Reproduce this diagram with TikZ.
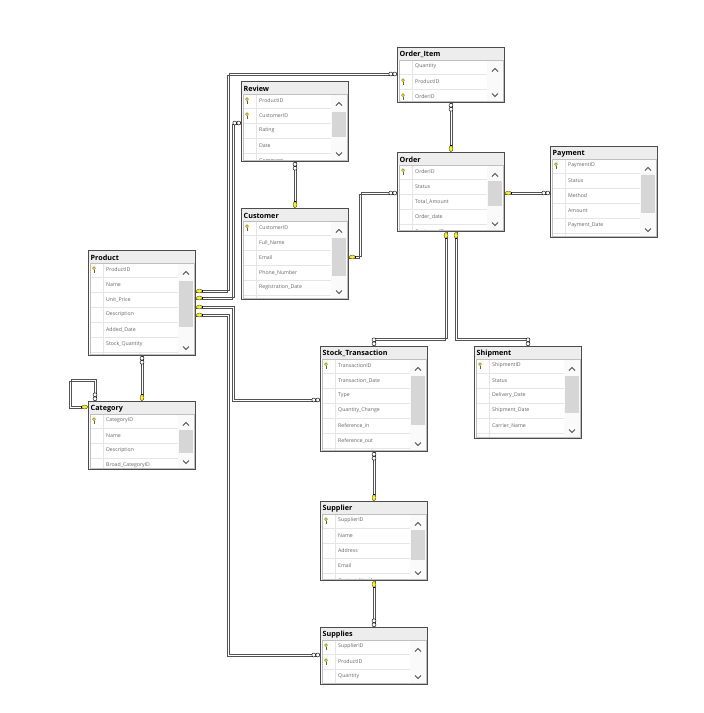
\documentclass[tikz,border=0pt]{standalone}
\usepackage{fontspec}
\setmainfont{Open Sans}
\usetikzlibrary{calc}
\definecolor{keyyellow}{RGB}{246,238,52}
\definecolor{keyolive}{RGB}{110,100,20}
% one table of the diagram: name, top left, height, scroll thumb from/to, title, fields
\newcommand{\dbtable}[7]{%
  \begin{scope}[shift={(#2)}]
    \node[tblbox, minimum height=#3pt, anchor=north west] (#1) at (0,0) {};
    \fill[titlefill] (0,0) rectangle (108,13);
    \node[tbltitle, anchor=west] (#1-title) at (2.5,7.5) {#6};
    \begin{scope}
      \clip (2,13) rectangle (106,{#3-2});
      \fill[scrollbg] (90,13) rectangle (106,{#3-2});
      \ifnum#4>0 \fill[thumb] (91,#4) rectangle (105,#5);\fi
      \foreach \fld/\pk [count=\i] in {#7}{
        \draw[rowline] (2,{12+15*\i}) -- (90,{12+15*\i});
        \node[fieldtxt, anchor=west] (#1-f\i) at (18,{4.5+15*\i}) {\fld};
        \ifnum\pk=1 \pic at (6,{4.5+15*\i}) {pkicon};\fi
      }
      \draw[rowline] (15,13) -- (15,{#3-2});
    \end{scope}
    \draw[chev] (95,24.5) -- (98,21.5) -- (101,24.5);
    \draw[chev] (95,{#3-9.5}) -- (98,{#3-6.5}) -- (101,{#3-9.5});
    \draw[bodyline] (2,13) rectangle (106,{#3-2});
    \draw[tblframe] (0.6,0.6) rectangle (107.4,{#3-0.6});
  \end{scope}}
% a relationship line: two thin parallel strokes
\newcommand{\fklink}[1]{%
  \draw[fkline, transform canvas={shift={(1.1pt,1.1pt)}}] #1;
  \draw[fkline, transform canvas={shift={(-1.1pt,-1.1pt)}}] #1;}

\begin{document}
\begin{tikzpicture}[x=1pt,y=-1pt]
	\tikzset{tblbox/.style={fill=white, minimum width=108pt, inner sep=0pt, outer sep=0pt}}
	\tikzset{tblframe/.style={draw=gray!60!black, line width=1.2pt}}
	\tikzset{titlefill/.style={fill=gray!14}}
	\tikzset{tbltitle/.style={font=\fontsize{7.2}{8}\selectfont\bfseries, inner sep=0pt}}
	\tikzset{fieldtxt/.style={font=\fontsize{5.2}{6}\selectfont, text=black!60, inner sep=0pt}}
	\tikzset{rowline/.style={draw=gray!20, line width=0.4pt}}
	\tikzset{bodyline/.style={draw=gray!50, line width=0.4pt}}
	\tikzset{scrollbg/.style={fill=gray!4}}
	\tikzset{thumb/.style={fill=gray!32}}
	\tikzset{chev/.style={draw=black!70, line width=0.8pt}}
	\tikzset{fkline/.style={draw=gray!65!black, line width=0.6pt}}
	\tikzset{markline/.style={draw=black, line width=0.45pt}}
	\tikzset{manymark/.pic={\draw[markline, fill=white] (2.2pt,0) circle (2pt) (6.2pt,0) circle (2pt);}}
	\tikzset{keymark/.pic={\draw[markline, draw=keyolive, fill=keyyellow] (3.4pt,0) ellipse (3pt and 1.9pt);
		\draw[markline] (6.6pt,-1.2pt) -- (6.6pt,1.2pt);}}
	\tikzset{pkicon/.pic={\fill[keyyellow, draw=keyolive, line width=0.3pt] (0,1.3pt) circle (1.5pt);
		\draw[keyolive, line width=0.5pt] (0,-0.2pt) -- (0,-3pt);}}
	\useasboundingbox (0,0) rectangle (704,713);

	\dbtable{orderitem}{397,47}{56}{0}{0}{Order\_Item}{Quantity/0,ProductID/1,OrderID/1}
	\dbtable{review}{241,81}{81}{31}{56}{Review}{ProductID/1,CustomerID/1,Rating/0,Date/0,Comment/0}
	\dbtable{order}{397,152}{80}{29}{54}{Order}{OrderID/1,Status/0,Total\_Amount/0,Order\_date/0,CustomerID/0}
	\dbtable{payment}{550,146}{92}{29}{67}{Payment}{PaymentID/1,Status/0,Method/0,Amount/0,Payment\_Date/0}
	\dbtable{customer}{241,208}{92}{30}{68}{Customer}{CustomerID/1,Full\_Name/0,Email/0,Phone\_Number/0,Registration\_Date/0}
	\dbtable{product}{88,250}{106}{31}{77}{Product}{ProductID/1,Name/0,Unit\_Price/0,Description/0,Added\_Date/0,Stock\_Quantity/0}
	\dbtable{category}{88,401}{69}{29}{52}{Category}{CategoryID/1,Name/0,Description/0,Broad\_CategoryID/0}
	\dbtable{stock}{320,346}{106}{30}{79}{Stock\_Transaction}{TransactionID/1,Transaction\_Date/0,Type/0,Quantity\_Change/0,Reference\_in/0,Reference\_out/0}
	\dbtable{shipment}{474,346}{93}{30}{67}{Shipment}{ShipmentID/1,Status/0,Delivery\_Date/0,Shipment\_Date/0,Carrier\_Name/0}
	\dbtable{supplier}{320,501}{80}{29}{59}{Supplier}{SupplierID/1,Name/0,Address/0,Email/0,Contact\_Number/0}
	\dbtable{supplies}{320,627}{58}{0}{0}{Supplies}{SupplierID/1,ProductID/1,Quantity/0}

	% relationship end points
	\coordinate (pA) at ($(product.north east)+(0,41)$);
	\coordinate (pB) at ($(product.north east)+(0,48)$);
	\coordinate (pC) at ($(product.north east)+(0,57)$);
	\coordinate (pD) at ($(product.north east)+(0,65)$);
	\coordinate (oiW) at ($(orderitem.north west)+(0,27)$);
	\coordinate (rvW) at ($(review.north west)+(0,42)$);
	\coordinate (stW) at ($(stock.north west)+(0,54)$);
	\coordinate (spW) at ($(supplies.north west)+(0,28)$);
	\coordinate (cuE) at ($(customer.north east)+(0,49)$);
	\coordinate (orW) at ($(order.north west)+(0,41)$);
	\coordinate (orE) at ($(order.north east)+(0,41)$);
	\coordinate (paW) at ($(payment.north west)+(0,47)$);
	\coordinate (orS1) at ($(order.south west)+(49,0)$);
	\coordinate (orS2) at ($(order.south west)+(59,0)$);
	\coordinate (caW) at ($(category.north west)+(0,6)$);
	\coordinate (caN) at ($(category.north west)+(7,0)$);

	\fklink{(pA) -- ++(32,0) |- (oiW)}
	\fklink{(pB) -- ++(37,0) |- (rvW)}
	\fklink{(pC) -- ++(37,0) |- (stW)}
	\fklink{(pD) -- ++(32,0) |- (spW)}
	\fklink{(review.south) -- (customer.north)}
	\fklink{(cuE) -- ++(11,0) |- (orW)}
	\fklink{(order.north) -- (orderitem.south)}
	\fklink{(orE) -- (paW)}
	\fklink{(orS1) -- ++(0,107) -| (stock.north)}
	\fklink{(orS2) -- ++(0,107) -| (shipment.north)}
	\fklink{(caW) -- ++(-18,0) -- ++(0,-27) -| (caN)}
	\fklink{(product.south) -- (category.north)}
	\fklink{(stock.south) -- (supplier.north)}
	\fklink{(supplier.south) -- (supplies.north)}

	% one / many ends
	\foreach \p in {pA,pB,pC,pD} \pic at (\p) {keymark};
	\foreach \p in {oiW,rvW,stW,spW,orW,paW} \pic[rotate=180] at (\p) {manymark};
	\pic[rotate=-90] at (review.south) {manymark};
	\pic[rotate=90] at (customer.north) {keymark};
	\pic at (cuE) {keymark};
	\pic[rotate=90] at (order.north) {keymark};
	\pic[rotate=-90] at (orderitem.south) {manymark};
	\pic at (orE) {keymark};
	\pic[rotate=-90] at (orS1) {keymark};
	\pic[rotate=-90] at (orS2) {keymark};
	\pic[rotate=90] at (stock.north) {manymark};
	\pic[rotate=90] at (shipment.north) {manymark};
	\pic[rotate=180] at (caW) {keymark};
	\pic[rotate=90] at (caN) {manymark};
	\pic[rotate=-90] at (product.south) {manymark};
	\pic[rotate=90] at (category.north) {keymark};
	\pic[rotate=-90] at (stock.south) {manymark};
	\pic[rotate=90] at (supplier.north) {keymark};
	\pic[rotate=-90] at (supplier.south) {keymark};
	\pic[rotate=90] at (supplies.north) {manymark};
\end{tikzpicture}
\end{document}
